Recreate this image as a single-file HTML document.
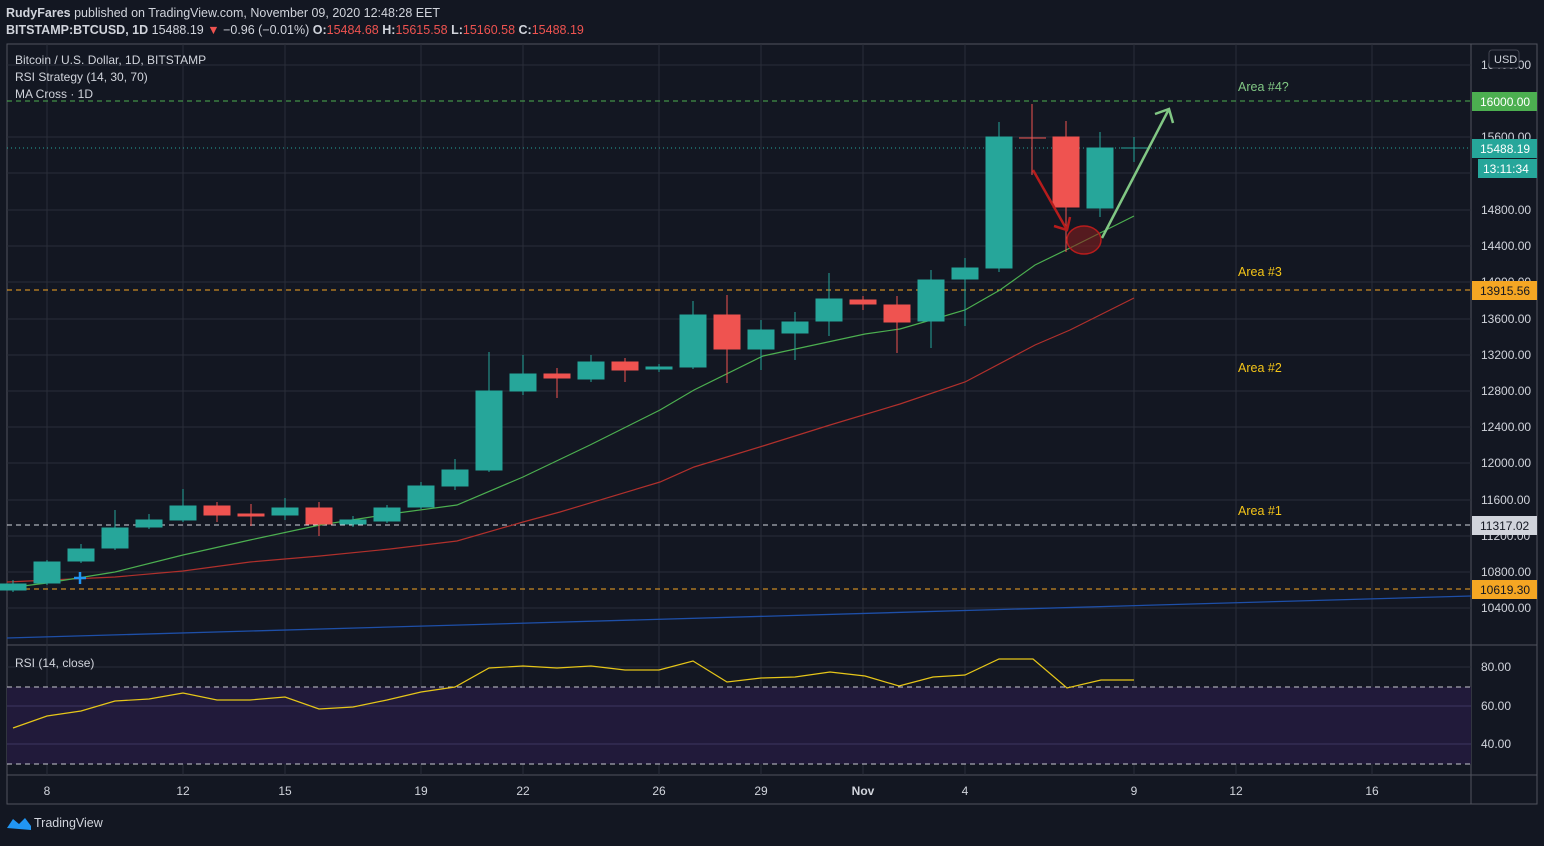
<!DOCTYPE html>
<html><head><meta charset="utf-8"><style>
body{margin:0;background:#131722;width:1544px;height:841px;overflow:hidden;font-family:"Liberation Sans",sans-serif}
</style></head><body>
<svg width="1544" height="841" xmlns="http://www.w3.org/2000/svg" font-family="Liberation Sans, sans-serif">
<rect width="1544" height="841" fill="#131722"/>
<text x="6" y="17" font-size="12.5" fill="#d1d4dc"><tspan font-weight="bold">RudyFares</tspan> published on TradingView.com, November 09, 2020 12:48:28 EET</text>
<text x="6" y="34" font-size="12.5" fill="#d1d4dc"><tspan font-weight="bold">BITSTAMP:BTCUSD, 1D</tspan> 15488.19 <tspan fill="#ef5350">▼</tspan> −0.96 (−0.01%) <tspan font-weight="bold">O:</tspan><tspan fill="#ef5350">15484.68</tspan> <tspan font-weight="bold">H:</tspan><tspan fill="#ef5350">15615.58</tspan> <tspan font-weight="bold">L:</tspan><tspan fill="#ef5350">15160.58</tspan> <tspan font-weight="bold">C:</tspan><tspan fill="#ef5350">15488.19</tspan></text>
<!-- frame -->
<rect x="7" y="44" width="1530" height="760" fill="none" stroke="#50535e"/>
<line x1="1471" y1="44" x2="1471" y2="804" stroke="#50535e"/>
<line x1="7" y1="645" x2="1537" y2="645" stroke="#50535e"/>
<line x1="7" y1="775" x2="1537" y2="775" stroke="#50535e"/>
<!-- grid -->
<g stroke="#2a2e39">
<line x1="7" y1="65" x2="1471" y2="65"/><line x1="7" y1="137" x2="1471" y2="137"/><line x1="7" y1="173" x2="1471" y2="173"/><line x1="7" y1="210" x2="1471" y2="210"/><line x1="7" y1="246" x2="1471" y2="246"/><line x1="7" y1="282" x2="1471" y2="282"/><line x1="7" y1="319" x2="1471" y2="319"/><line x1="7" y1="355" x2="1471" y2="355"/><line x1="7" y1="391" x2="1471" y2="391"/><line x1="7" y1="427" x2="1471" y2="427"/><line x1="7" y1="463" x2="1471" y2="463"/><line x1="7" y1="500" x2="1471" y2="500"/><line x1="7" y1="536" x2="1471" y2="536"/><line x1="7" y1="572" x2="1471" y2="572"/><line x1="7" y1="608" x2="1471" y2="608"/>
<line x1="7" y1="667" x2="1471" y2="667"/><line x1="7" y1="744" x2="1471" y2="744"/>
<line x1="47" y1="44" x2="47" y2="775"/><line x1="183" y1="44" x2="183" y2="775"/><line x1="285" y1="44" x2="285" y2="775"/><line x1="421" y1="44" x2="421" y2="775"/><line x1="523" y1="44" x2="523" y2="775"/><line x1="659" y1="44" x2="659" y2="775"/><line x1="761" y1="44" x2="761" y2="775"/><line x1="863" y1="44" x2="863" y2="775"/><line x1="965" y1="44" x2="965" y2="775"/><line x1="1134" y1="44" x2="1134" y2="775"/><line x1="1236" y1="44" x2="1236" y2="775"/><line x1="1372" y1="44" x2="1372" y2="775"/>
</g>
<!-- RSI pane -->
<rect x="7" y="687" width="1464" height="77" fill="#211a3a"/>
<line x1="7" y1="706" x2="1471" y2="706" stroke="#3d3560"/><line x1="7" y1="744" x2="1471" y2="744" stroke="#3d3560"/>
<line x1="7" y1="687" x2="1471" y2="687" stroke="#c8c8d0" stroke-dasharray="5,4"/>
<line x1="7" y1="764" x2="1471" y2="764" stroke="#c8c8d0" stroke-dasharray="5,4"/>
<polyline fill="none" stroke="#e6c619" stroke-width="1.2" points="13,728 47,716 81,711 115,701 149,699 183,693 217,700 250,700 285,697 319,709 353,707 387,700 421,692 455,687 489,668 523,666 557,668 591,666 625,670 659,670 693,661 727,682 761,678 795,677 830,672 865,676 899,686 933,677 965,675 999,659 1033,659 1067,688 1101,680 1134,680"/>
<text x="15" y="667" font-size="12" fill="#d1d4dc">RSI (14, close)</text>
<!-- horizontal levels -->
<line x1="7" y1="101" x2="1471" y2="101" stroke="#4caf50" stroke-dasharray="5,4"/>
<line x1="7" y1="290" x2="1471" y2="290" stroke="#f5a623" stroke-dasharray="5,4"/>
<line x1="7" y1="525" x2="1471" y2="525" stroke="#d1d4dc" stroke-dasharray="5,4"/>
<line x1="7" y1="589" x2="1471" y2="589" stroke="#f5a623" stroke-dasharray="5,4"/>
<line x1="7" y1="148" x2="1471" y2="148" stroke="#26a69a" stroke-dasharray="1,3"/>
<line x1="7" y1="638" x2="1471" y2="596" stroke="#1e4fa8" stroke-width="1.3"/>
<!-- MAs -->
<polyline fill="none" stroke="#b0302c" stroke-width="1.2" points="7,582 115,577 183,571 250,562 320,556 390,549 457,541 523,522 560,512 660,482 694,467 763,446 830,425 900,404 965,382 1035,345 1070,330 1134,298"/>
<polyline fill="none" stroke="#4caf50" stroke-width="1.2" points="7,588 47,583 115,572 183,555 250,540 320,525 390,514 457,505 523,477 590,445 660,410 694,390 763,356 865,334 900,329 931,320 965,310 1000,290 1035,265 1070,248 1134,216"/>
<!-- candles -->
<g stroke-width="1">
<g fill="#26a69a" stroke="#26a69a">
<line x1="13" y1="580" x2="13" y2="592"/><rect x="0" y="584" width="26" height="6"/>
<line x1="47" y1="560" x2="47" y2="585"/><rect x="34" y="562" width="26" height="21"/>
<line x1="81" y1="544" x2="81" y2="563"/><rect x="68" y="549" width="26" height="12"/>
<line x1="115" y1="510" x2="115" y2="550"/><rect x="102" y="528" width="26" height="20"/>
<line x1="149" y1="514" x2="149" y2="529"/><rect x="136" y="520" width="26" height="7"/>
<line x1="183" y1="489" x2="183" y2="522"/><rect x="170" y="506" width="26" height="14"/>
<line x1="285" y1="498" x2="285" y2="520"/><rect x="272" y="508" width="26" height="7"/>
<line x1="353" y1="516" x2="353" y2="527"/><rect x="340" y="520" width="26" height="4"/>
<line x1="387" y1="505" x2="387" y2="523"/><rect x="374" y="508" width="26" height="13"/>
<line x1="421" y1="482" x2="421" y2="509"/><rect x="408" y="486" width="26" height="21"/>
<line x1="455" y1="459" x2="455" y2="490"/><rect x="442" y="470" width="26" height="16"/>
<line x1="489" y1="352" x2="489" y2="472"/><rect x="476" y="391" width="26" height="79"/>
<line x1="523" y1="355" x2="523" y2="395"/><rect x="510" y="374" width="26" height="17"/>
<line x1="591" y1="355" x2="591" y2="382"/><rect x="578" y="362" width="26" height="17"/>
<line x1="659" y1="364" x2="659" y2="372"/><rect x="646" y="367" width="26" height="2"/>
<line x1="693" y1="301" x2="693" y2="369"/><rect x="680" y="315" width="26" height="52"/>
<line x1="761" y1="320" x2="761" y2="370"/><rect x="748" y="330" width="26" height="19"/>
<line x1="795" y1="312" x2="795" y2="360"/><rect x="782" y="322" width="26" height="11"/>
<line x1="829" y1="273" x2="829" y2="336"/><rect x="816" y="299" width="26" height="22"/>
<line x1="931" y1="270" x2="931" y2="348"/><rect x="918" y="280" width="26" height="41"/>
<line x1="965" y1="258" x2="965" y2="326"/><rect x="952" y="268" width="26" height="11"/>
<line x1="999" y1="122" x2="999" y2="272"/><rect x="986" y="137" width="26" height="131"/>
<line x1="1100" y1="132" x2="1100" y2="217"/><rect x="1087" y="148" width="26" height="60"/>
<line x1="1134" y1="137" x2="1134" y2="162"/><line x1="1121" y1="148" x2="1147" y2="148"/>
</g>
<g fill="#ef5350" stroke="#ef5350">
<line x1="217" y1="502" x2="217" y2="522"/><rect x="204" y="506" width="26" height="9"/>
<line x1="251" y1="504" x2="251" y2="526"/><rect x="238" y="514" width="26" height="2"/>
<line x1="319" y1="502" x2="319" y2="536"/><rect x="306" y="508" width="26" height="16"/>
<line x1="557" y1="368" x2="557" y2="398"/><rect x="544" y="374" width="26" height="4"/>
<line x1="625" y1="358" x2="625" y2="382"/><rect x="612" y="362" width="26" height="8"/>
<line x1="727" y1="295" x2="727" y2="383"/><rect x="714" y="315" width="26" height="34"/>
<line x1="863" y1="296" x2="863" y2="310"/><rect x="850" y="300" width="26" height="4"/>
<line x1="897" y1="296" x2="897" y2="353"/><rect x="884" y="305" width="26" height="17"/>
<line x1="1032" y1="104" x2="1032" y2="175"/><line x1="1019" y1="138" x2="1046" y2="138"/>
<line x1="1066" y1="121" x2="1066" y2="252"/><rect x="1053" y="137" width="26" height="70"/>
</g>
</g>
<!-- annotations -->
<ellipse cx="1084" cy="240" rx="17" ry="14" fill="rgba(140,30,30,0.55)" stroke="#b71c1c" stroke-width="1.5"/>
<g stroke="#b71c1c" stroke-width="2.5" fill="none"><line x1="1033" y1="170" x2="1067" y2="230"/><polyline points="1054,226 1067,230 1070,217"/></g>
<g stroke="#81c784" stroke-width="2.5" fill="none"><line x1="1102" y1="238" x2="1169" y2="109"/><polyline points="1155,114 1169,109 1173,123"/></g>
<g stroke="#2196f3" stroke-width="2.5"><line x1="80" y1="572" x2="80" y2="584"/><line x1="74" y1="578" x2="86" y2="578"/></g>
<g font-size="12.5">
<text x="1238" y="91" fill="#81c784">Area #4?</text>
<text x="1238" y="276" fill="#f5c518">Area #3</text>
<text x="1238" y="372" fill="#f5c518">Area #2</text>
<text x="1238" y="515" fill="#f5c518">Area #1</text>
</g>
<g font-size="12" fill="#d1d4dc">
<text x="15" y="64">Bitcoin / U.S. Dollar, 1D, BITSTAMP</text>
<text x="15" y="81">RSI Strategy (14, 30, 70)</text>
<text x="15" y="98">MA Cross · 1D</text>
</g>
<!-- price axis -->
<g font-size="12" fill="#d1d4dc">
<text x="1481" y="69">16400.00</text><text x="1481" y="141">15600.00</text><text x="1481" y="214">14800.00</text><text x="1481" y="250">14400.00</text><text x="1481" y="286">14000.00</text><text x="1481" y="323">13600.00</text><text x="1481" y="359">13200.00</text><text x="1481" y="395">12800.00</text><text x="1481" y="431">12400.00</text><text x="1481" y="467">12000.00</text><text x="1481" y="504">11600.00</text><text x="1481" y="540">11200.00</text><text x="1481" y="576">10800.00</text><text x="1481" y="612">10400.00</text>
<text x="1481" y="671">80.00</text><text x="1481" y="710">60.00</text><text x="1481" y="748">40.00</text>
</g>
<rect x="1489" y="50" width="30" height="18" rx="3" fill="#131722" stroke="#434651"/>
<text x="1494" y="63" font-size="11" fill="#d1d4dc">USD</text>
<g font-size="12" fill="#fff">
<rect x="1472" y="92" width="65" height="19" fill="#4caf50"/><text x="1480" y="106">16000.00</text>
<rect x="1472" y="139" width="65" height="19" fill="#26a69a"/><text x="1480" y="153">15488.19</text>
<rect x="1478" y="159" width="59" height="19" fill="#26a69a"/><text x="1483" y="173">13:11:34</text>
<rect x="1472" y="281" width="65" height="19" fill="#f5a623"/><text x="1480" y="295" fill="#131722">13915.56</text>
<rect x="1472" y="516" width="65" height="19" fill="#d1d4dc"/><text x="1480" y="530" fill="#131722">11317.02</text>
<rect x="1472" y="580" width="65" height="19" fill="#f5a623"/><text x="1480" y="594" fill="#131722">10619.30</text>
</g>
<!-- time axis -->
<g font-size="12" fill="#d1d4dc" text-anchor="middle">
<text x="47" y="795">8</text><text x="183" y="795">12</text><text x="285" y="795">15</text><text x="421" y="795">19</text><text x="523" y="795">22</text><text x="659" y="795">26</text><text x="761" y="795">29</text><text x="863" y="795" font-weight="bold">Nov</text><text x="965" y="795">4</text><text x="1134" y="795">9</text><text x="1236" y="795">12</text><text x="1372" y="795">16</text>
</g>
<path d="M7,828 l6,-9 l6,5 l6,-6 l6,8 l0,4 z" fill="#2196f3"/>
<text x="34" y="827" font-size="12.5" fill="#d1d4dc">TradingView</text>
</svg>
</body></html>
